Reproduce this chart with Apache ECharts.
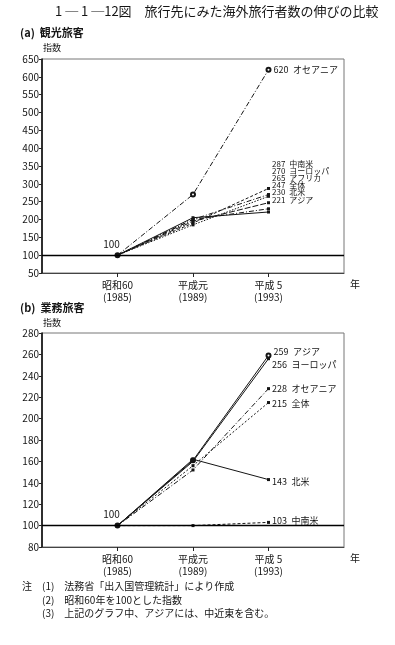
<!DOCTYPE html>
<html><head><meta charset="utf-8">
<script src="https://cdn.jsdelivr.net/npm/echarts@6/dist/echarts.min.js"></script>
<style>html,body{margin:0;padding:0;background:#fff}#c{width:395px;height:645px}</style>
</head><body><div id="c"></div>
<script>
// ---- data ----
const categories = ['昭和60\n(1985)', '平成元\n(1989)', '平成 5\n(1993)'];
const ticksA = [50, 650, 50];   // min, max, step
const ticksB = [80, 280, 20];

// (a) 観光旅客
const oceaniaA  = [100, 270, 620];
const chunanbeiA = [100, 190, 287];
const europeA   = [100, 200, 270];
const africaA   = [100, 185, 265];
const totalA    = [100, 195, 247];
const hokubeiA  = [100, 200, 230];
const asiaA     = [100, 205, 221];

// (b) 業務旅客
const asiaB     = [100, 161, 259];
const europeB   = [100, 160, 256];
const oceaniaB  = [100, 152, 228];
const totalB    = [100, 156, 215];
const hokubeiB  = [100, 162, 143];
const chunanbeiB = [100, 100, 103];

// ---- config ----
const FONT = '"Noto Sans CJK JP", "Noto Sans", sans-serif';
const INK = '#151515';
const DASHDOT = [5, 2, 1, 2];

function buildData(vals, name, endOffset, withStart, fs) {
  const items = vals.map((v, i) => {
    if (i === vals.length - 1) {
      return { value: v, label: { show: true, position: 'right', distance: 2, offset: endOffset,
        formatter: () => v + '\u2002' + name, fontSize: fs, color: INK, fontFamily: FONT } };
    }
    if (i === 0 && withStart) {
      return { value: v, label: { show: true, position: 'top', distance: 3, offset: [-6, 0],
        formatter: () => String(v), fontSize: 10, color: INK, fontFamily: FONT } };
    }
    return v;
  });
  return [null, ...items, null];
}

function line(gi, name, vals, type, symbol, endOffset, withStart, fs) {
  return {
    name, type: 'line', xAxisIndex: gi, yAxisIndex: gi,
    data: buildData(vals, name, endOffset, withStart, fs || 9),
    symbol: symbol || 'rect', symbolSize: symbol === 'emptyCircle' ? 4 : 3,
    lineStyle: { color: INK, width: 1, type: type },
    itemStyle: { color: INK, borderWidth: 0.8 },
    label: { show: false },
    z: 3
  };
}

const refLine = (gi) => ({
  type: 'line', xAxisIndex: gi, yAxisIndex: gi, data: [], silent: true,
  markLine: { silent: true, symbol: 'none', label: { show: false },
    lineStyle: { color: '#000', width: 1.3, type: 'solid' }, data: [{ yAxis: 100 }] }
});

function xAx(gi) {
  return {
    gridIndex: gi, type: 'category', boundaryGap: false,
    data: ['', ...categories, ''],
    axisLine: { lineStyle: { color: '#444', width: 1 } },
    axisTick: { show: true, interval: (i) => i > 0 && i < categories.length + 1, length: 4, lineStyle: { color: '#222' } },
    axisLabel: { interval: 0, fontSize: 10, lineHeight: 12, margin: 6, color: INK, fontFamily: FONT },
    splitLine: { show: false },
    name: '年', nameLocation: 'end', nameGap: 6,
    nameTextStyle: { fontSize: 10, color: INK, fontFamily: FONT, align: 'left', verticalAlign: 'top', padding: [6, 0, 0, 0] }
  };
}
function yAx(gi, t) {
  return {
    gridIndex: gi, type: 'value', min: t[0], max: t[1], interval: t[2],
    axisLine: { show: true, lineStyle: { color: '#000', width: 1.5 } },
    axisTick: { show: true, length: 3, lineStyle: { color: '#222' } },
    axisLabel: { fontSize: 10, margin: 3, color: INK, fontFamily: FONT },
    splitLine: { show: false }
  };
}

const option = {
  animation: false,
  backgroundColor: '#fff',
  textStyle: { fontFamily: FONT },
  grid: [
    { left: 42, top: 59, width: 302, height: 214, show: true, borderColor: '#777', borderWidth: 1 },
    { left: 42, top: 333, width: 302, height: 214, show: true, borderColor: '#777', borderWidth: 1 }
  ],
  xAxis: [xAx(0), xAx(1)],
  yAxis: [yAx(0, ticksA), yAx(1, ticksB)],
  graphic: [
    { type: 'text', left: 55, top: 5, style: { text: '1 ─ 1 ─12図　旅行先にみた海外旅行者数の伸びの比較', font: '13px ' + FONT, fill: INK } },
    { type: 'text', left: 20, top: 27, style: { text: '(a)  観光旅客', font: 'bold 11px ' + FONT, fill: INK } },
    { type: 'text', left: 43, top: 43, style: { text: '指数', font: '9px ' + FONT, fill: INK } },
    { type: 'text', left: 20, top: 302, style: { text: '(b)  業務旅客', font: 'bold 11px ' + FONT, fill: INK } },
    { type: 'text', left: 43, top: 318, style: { text: '指数', font: '9px ' + FONT, fill: INK } },
    { type: 'text', left: 22, top: 581, style: { text: '注', font: '10px ' + FONT, fill: INK } },
    { type: 'text', left: 42, top: 581, style: { text: '(1)　法務省「出入国管理統計」により作成', font: '10px ' + FONT, fill: INK } },
    { type: 'text', left: 42, top: 595, style: { text: '(2)　昭和60年を100とした指数', font: '10px ' + FONT, fill: INK } },
    { type: 'text', left: 42, top: 608, style: { text: '(3)　上記のグラフ中、アジアには、中近東を含む。', font: '10px ' + FONT, fill: INK } }
  ],
  series: [
    refLine(0),
    line(0, 'オセアニア', oceaniaA, DASHDOT, 'emptyCircle', [0, 0], true, 9),
    line(0, '中南米', chunanbeiA, [3, 2], 'rect', [0, -25], false, 8),
    line(0, 'ヨーロッパ', europeA, DASHDOT, 'rect', [0, -23.5], false, 8),
    line(0, 'アフリカ', africaA, [1.5, 1.5], 'rect', [0, -18], false, 8),
    line(0, '全体', totalA, [6, 2], 'rect', [0, -17.5], false, 8),
    line(0, '北米', hokubeiA, [5, 2, 1, 2], 'rect', [0, -16.5], false, 8),
    line(0, 'アジア', asiaA, 'solid', 'rect', [0, -12.5], false, 8),

    refLine(1),
    line(1, 'アジア', asiaB, 'solid', 'emptyCircle', [0, -4], true, 9),
    line(1, 'ヨーロッパ', europeB, 'solid', 'rect', [0, 6], false, 9),
    line(1, 'オセアニア', oceaniaB, DASHDOT, 'rect', [0, 0], false, 9),
    line(1, '全体', totalB, [2, 2], 'rect', [0, 1], false, 9),
    line(1, '北米', hokubeiB, 'solid', 'rect', [0, 2], false, 9),
    line(1, '中南米', chunanbeiB, [3, 2], 'rect', [0, -2], false, 9)
  ]
};

const chart = echarts.init(document.getElementById('c'), null, { renderer: 'canvas' });
chart.setOption(option);
</script>
</body></html>
